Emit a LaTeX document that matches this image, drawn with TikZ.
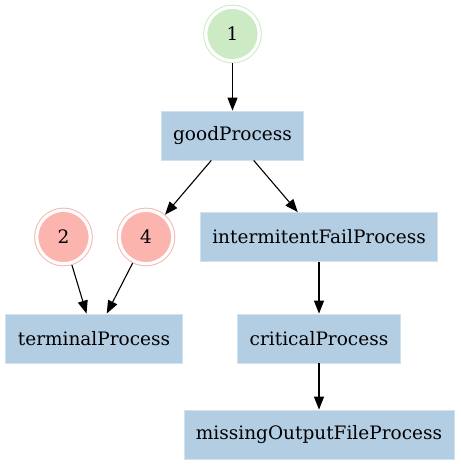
\documentclass[tikz,border=0pt]{standalone}
\usepackage{fontspec}
\setmainfont{DejaVu Serif}
\usepackage{tikz}
\usetikzlibrary{arrows.meta}

\definecolor{procfill}{HTML}{B3CDE3}
\definecolor{procedge}{HTML}{D2E1EE}
\definecolor{startfill}{HTML}{CCEBC5}
\definecolor{endfill}{HTML}{FBB4AE}

\begin{document}
\begin{tikzpicture}[x=1pt, y=-1pt,
    proc/.style={rectangle, fill=procfill, draw=procedge, line width=0.8pt,
        minimum height=49pt, inner xsep=12pt, font=\fontsize{18.5}{22}\selectfont},
    ring/.style={circle, minimum size=53.5pt, inner sep=0pt, line width=1pt,
        double=white, double distance=3.2pt, outer sep=2.6pt,
        font=\fontsize{18.5}{22}\selectfont},
    start/.style={ring, fill=startfill, draw=startfill},
    stop/.style={ring, fill=endfill, draw=endfill},
    link/.style={-{Triangle[length=13pt,width=10pt]}, line width=1.1pt}]

\useasboundingbox (0,0) rectangle (461,464);

    \node[start] (one) at (232.5,34) {1};
    \node[proc] (good) at (232.5,135.5) {goodProcess};

    \node[stop] (two) at (63.5,237) {2};
    \node[stop] (four) at (146,237) {4};
    \node[proc] (intermit) at (319,237) {intermitentFailProcess};

    \node[proc] (terminal) at (94,338.5) {terminalProcess};
    \node[proc] (critical) at (319,338.5) {criticalProcess};
    \node[proc] (missing) at (319,434.5) {missingOutputFileProcess};

    \draw[link] (one) -- (good);
    \draw[link] (good) -- (four);
    \draw[link] (good) -- (intermit);
    \draw[link] (two) -- (terminal);
    \draw[link] (four) -- (terminal);
    \draw[link] (intermit) -- (critical);
    \draw[link] (critical) -- (missing);
\end{tikzpicture}
\end{document}
